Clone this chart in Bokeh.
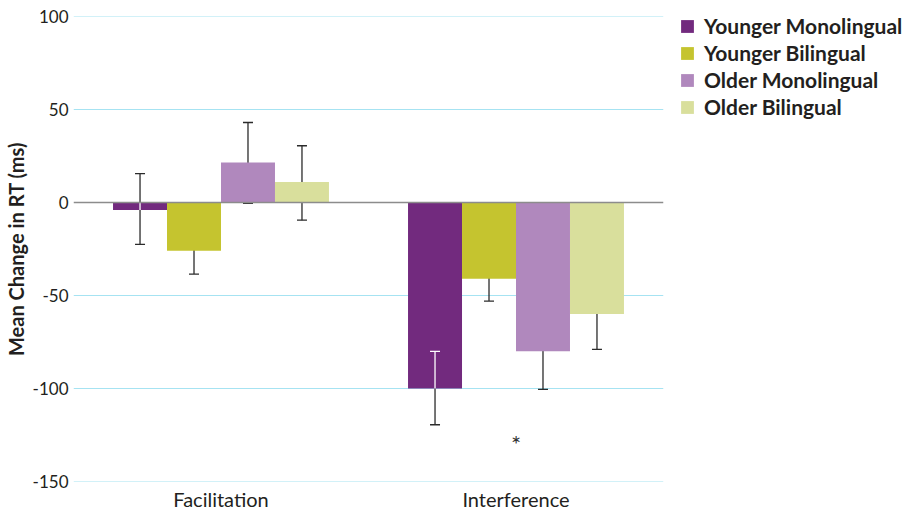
from bokeh.plotting import figure
from bokeh.models import (ColumnDataSource, Range1d, FixedTicker, Whisker, TeeHead,
                          Span, Legend, LegendItem, Label)
from bokeh.embed import file_html
from bokeh.resources import INLINE

categories = ["Facilitation", "Interference"]
groups = ["Younger Monolingual", "Younger Bilingual", "Older Monolingual", "Older Bilingual"]
colors = ["#722a7e", "#c5c42f", "#b088bd", "#d9df9c"]

ym_mean = [-4, -100]
yb_mean = [-26, -41]
om_mean = [21.5, -80]
ob_mean = [11, -60]

ym_upper = [15.5, -80]
yb_upper = [-13.5, -28.5]
om_upper = [43, -60]
ob_upper = [30.5, -39.5]

ym_lower = [-22.5, -119.5]
yb_lower = [-38.5, -53]
om_lower = [-0.5, -100.5]
ob_lower = [-9.5, -79]

means = [ym_mean, yb_mean, om_mean, ob_mean]
uppers = [ym_upper, yb_upper, om_upper, ob_upper]
lowers = [ym_lower, yb_lower, om_lower, ob_lower]

y_ticks = [-150, -100, -50, 0, 50, 100]
star_label = "*"
star_value = -127

FONT = "Lato"
TXT = "#231f20"
bar_w = 0.183
offsets = [-1.5 * bar_w, -0.5 * bar_w, 0.5 * bar_w, 1.5 * bar_w]
centers = [i + 0.5 for i in range(len(categories))]

p = figure(frame_width=590, frame_height=465, output_backend="svg", toolbar_location=None,
           x_range=Range1d(0, 2), y_range=Range1d(-150, 100),
           min_border_left=72, min_border_top=16, min_border_bottom=0, min_border_right=0)
p.outline_line_color = None
p.background_fill_color = "white"
p.border_fill_color = "white"

p.xgrid.grid_line_color = None
p.ygrid.grid_line_color = None
for t in y_ticks:
    if t != 0:
        p.add_layout(Span(location=t, dimension="width", line_color="#a6e3f2",
                          line_width=1, level="underlay"))
p.yaxis.ticker = FixedTicker(ticks=y_ticks)
p.yaxis.major_label_overrides = {t: str(t) for t in y_ticks}
p.xaxis.ticker = FixedTicker(ticks=centers)
p.xaxis.major_label_overrides = {c: n for c, n in zip(centers, categories)}

for ax in (p.xaxis[0], p.yaxis[0]):
    ax.axis_line_color = None
    ax.major_tick_line_color = None
    ax.minor_tick_line_color = None
    ax.major_tick_out = 0
    ax.major_tick_in = 0
    ax.minor_tick_out = 0
    ax.minor_tick_in = 0
    ax.major_label_text_font = FONT
    ax.major_label_text_color = TXT
p.yaxis.major_label_text_font_size = "17px"
p.xaxis.major_label_text_font_size = "20px"
p.xaxis.major_label_standoff = 5
p.yaxis.major_label_standoff = 5
p.yaxis.axis_label = "Mean Change in RT (ms)"
p.yaxis.axis_label_text_font = FONT
p.yaxis.axis_label_text_font_style = "bold"
p.yaxis.axis_label_text_font_size = "20px"
p.yaxis.axis_label_text_color = TXT
p.yaxis.axis_label_standoff = 2

items = []
for g, col, m, off in zip(groups, colors, means, offsets):
    xs = [c + off for c in centers]
    src = ColumnDataSource(dict(x=xs, top=m))
    r = p.vbar(x="x", top="top", bottom=0, width=bar_w, source=src,
               fill_color=col, line_color=None)
    items.append(LegendItem(label=g, renderers=[r]))

p.add_layout(Span(location=0, dimension="width", line_color="#8c8c8c", line_width=1.5))

for g, m, up, lo, off in zip(groups, means, uppers, lowers, offsets):
    xs = [c + off for c in centers]
    src = ColumnDataSource(dict(x=xs, upper=up, lower=lo))
    w = Whisker(source=src, base="x", upper="upper", lower="lower",
                line_color="#2b2b2b", line_width=1.3,
                upper_head=TeeHead(size=10, line_color="#2b2b2b", line_width=1.3),
                lower_head=TeeHead(size=10, line_color="#2b2b2b", line_width=1.3))
    p.add_layout(w)

# parts of the error bars lying on the dark bars appear white
xs_ym = [c + offsets[0] for c in centers]
in_hi = [min(u, 0) for u in ym_upper]
in_lo = [max(l, m) for l, m in zip(ym_lower, ym_mean)]
p.segment(x0=xs_ym, y0=in_lo, x1=xs_ym, y1=in_hi, line_color="white", line_width=1.3)
cap_x = [x for x, u, m in zip(xs_ym, ym_upper, ym_mean) if m < u < 0]
cap_y = [u for u, m in zip(ym_upper, ym_mean) if m < u < 0]
p.scatter(x=cap_x, y=cap_y, marker="dash", size=10, line_color="white", line_width=1.3)

p.add_layout(Label(x=centers[1], y=star_value, text=star_label, text_font=FONT,
                   text_font_size="24px", text_color="#333333", y_offset=-5,
                   text_align="center", text_baseline="middle"))

legend = Legend(items=items, orientation="vertical")
legend.border_line_color = None
legend.background_fill_alpha = 0
legend.margin = 0
legend.padding = 0
legend.glyph_width = 16
legend.glyph_height = 16
legend.label_height = 16
legend.spacing = 2
legend.label_standoff = 9
legend.label_text_font = FONT
legend.label_text_font_style = "bold"
legend.label_text_font_size = "21px"
legend.label_text_color = TXT
legend.label_text_baseline = "middle"
p.add_layout(legend, "right")
legend.location = (16, 362)

open("out.html", "w").write(file_html(p, INLINE))
